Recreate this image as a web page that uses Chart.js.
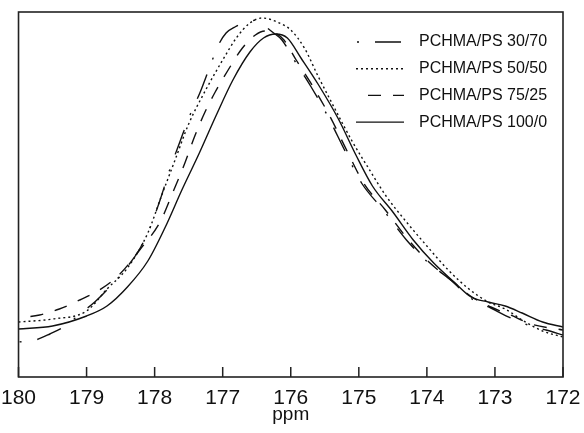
<!DOCTYPE html>
<html>
<head>
<meta charset="utf-8">
<script src="https://cdn.jsdelivr.net/npm/chart.js@4"></script>
<style>
body{margin:0;background:#fff}
#caixa{width:584px;height:433px}
</style>
</head>
<body>
<div id="caixa"><canvas id="grafico"></canvas></div>
<script>
const ppm3070 = [180.00,179.75,179.54,179.29,179.10,178.88,178.66,178.44,178.22,178.07,177.92,177.78,177.63,177.48,177.33,177.19,177.07,176.95,176.82,176.64,176.49,176.38,176.27,176.13,175.95,175.70,175.45,175.21,174.96,174.64,174.30,173.99,173.65,173.36,173.06,172.77,172.47,172.25,172.00]
const int3070 = [35,37,43,52,63,75,90,107,128,149,177,207,235,262,285,310,331,344,350,355,357,351,345,337,317,290,260,227,194,167,137,115,97,79,69,59,51,47,42]

const ppm5050 = [180.0,179.5,179.0,178.7,178.4,178.1,177.9,177.7,177.5,177.25,177.0,176.8,176.6,176.42,176.2,176.0,175.8,175.6,175.35,175.1,174.85,174.6,174.3,174.0,173.7,173.4,173.1,172.85,172.6,172.3,172.0]
const int5050 = [55,58,66,88,109,144,181,217,253,287,317,339,354,359,355,347,329,301,268,236,208,181,155,131,108,89,75,68,57,46,40]

const ppm7525 = [180.00,179.69,179.40,179.10,178.81,178.51,178.22,177.92,177.73,177.55,177.41,177.26,177.11,176.92,176.71,176.52,176.38,176.23,176.10,175.92,175.67,175.42,175.18,174.93,174.61,174.27,173.97,173.65,173.36,173.06,172.77,172.47,172.00]
const int7525 = [59,62,68,77,87,103,127,155,185,215,241,265,285,307,329,342,346,344,337,317,290,260,227,194,167,137,115,97,81,70,62,53,47]

const ppm1000 = [180.0,179.5,179.0,178.7,178.4,178.1,177.85,177.6,177.35,177.1,176.85,176.6,176.4,176.22,176.05,175.85,175.6,175.3,175.05,174.8,174.5,174.2,173.9,173.6,173.35,173.1,172.85,172.6,172.3,172.0]
const int1000 = [48,51,61,71,90,116,149,187,223,261,297,325,339,343,339,319,293,258,223,191,165,137,114,95,80,75,71,64,55,50]

const xTicks = [180,179,178,177,176,175,174,173,172]

const fonte = "'Liberation Sans', Arial, sans-serif"

function pontos(xs, ys){
return xs.map((x,i)=>({x:x, y:ys[i]}))
}

const series = [
{label:"PCHMA/PS 30/70", xs:ppm3070, ys:int3070, dash:[26,16,2,16], offset:41},
{label:"PCHMA/PS 50/50", xs:ppm5050, ys:int5050, dash:[2,3], offset:0},
{label:"PCHMA/PS 75/25", xs:ppm7525, ys:int7525, dash:[13,12], offset:13},
{label:"PCHMA/PS 100/0", xs:ppm1000, ys:int1000, dash:[], offset:0}
]

// moldura e ticks para dentro
const moldura = {
id:"moldura",
afterDatasetsDraw(chart){
const c = chart.ctx
const a = chart.chartArea
const sx = chart.scales.x
c.save()
c.strokeStyle = "#222"
c.lineWidth = 1.6
c.strokeRect(a.left, a.top, a.right-a.left, a.bottom-a.top)
c.lineWidth = 1.5
c.beginPath()
xTicks.forEach(v=>{
let px = sx.getPixelForValue(v)
c.moveTo(px, a.bottom)
c.lineTo(px, a.bottom-10)
})
c.stroke()
c.restore()
}
}

const legenda = {
id:"legenda",
afterDraw(chart){
const c = chart.ctx
const a = chart.chartArea
c.save()
series.forEach((s,i)=>{
let y = a.top + 30 + i*26.7
let x0 = a.right - 207
c.strokeStyle = "#111"
c.lineWidth = 1.4
c.setLineDash(s.dash)
c.lineDashOffset = s.offset
c.beginPath()
c.moveTo(x0, y)
c.lineTo(x0+48, y)
c.stroke()
c.setLineDash([])
c.fillStyle = "#111"
c.font = "16px " + fonte
c.textBaseline = "middle"
c.fillText(s.label, x0+63, y)
})
c.restore()
}
}

const ctx = document.getElementById("grafico").getContext("2d")

const grafico = new Chart(ctx, {
type: "scatter",
data: {
datasets: series.map(s=>({
label: s.label,
data: pontos(s.xs, s.ys),
showLine: true,
borderColor: "#111",
borderWidth: 1.4,
borderDash: s.dash,
borderDashOffset: s.offset,
pointRadius: 0,
fill: false,
cubicInterpolationMode: "monotone"
}))
},
options: {
responsive: true,
maintainAspectRatio: false,
animation: false,
layout: {padding: {left:14, right:21, top:12, bottom:0}},
plugins: {
legend: {display:false},
tooltip: {enabled:false}
},
scales: {
x: {
type: "linear",
reverse: true,
min: 172,
max: 180,
afterBuildTicks: s=>{ s.ticks = xTicks.map(v=>({value:v})) },
afterFit: s=>{ s.height = 56 },
grid: {display:false},
border: {display:false},
ticks: {color:"#111", padding:1, autoSkip:false, maxRotation:0, font:{size:21, family:fonte}},
title: {display:true, text:"ppm", color:"#111", padding:{top:0, bottom:7}, font:{size:19, family:fonte}}
},
y: {display:false, min:0, max:365}
}
},
plugins: [moldura, legenda]
})
</script>
</body>
</html>
